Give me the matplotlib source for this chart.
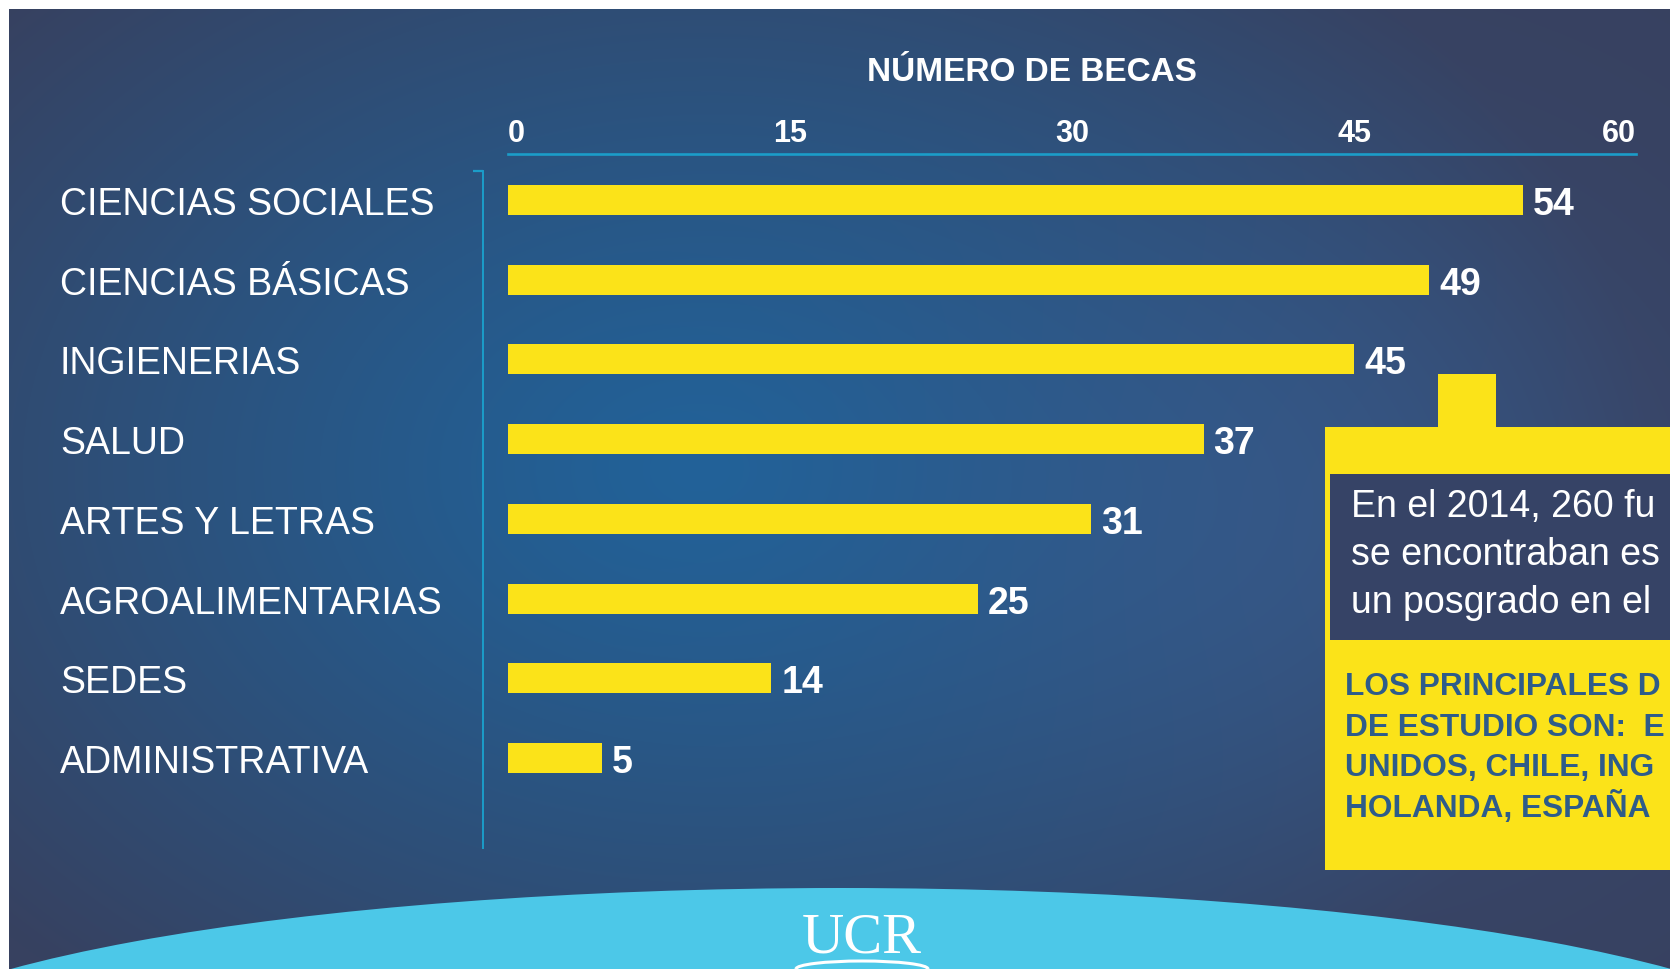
import numpy as np
import matplotlib
matplotlib.use("Agg")
import matplotlib.pyplot as plt
from matplotlib.patches import Rectangle, Ellipse, Arc

# ---------------- data ----------------
categories = ["CIENCIAS SOCIALES", "CIENCIAS BÁSICAS", "INGIENERIAS", "SALUD",
              "ARTES Y LETRAS", "AGROALIMENTARIAS", "SEDES", "ADMINISTRATIVA"]
becas = [54, 49, 45, 37, 31, 25, 14, 5]
x_ticks = [0, 15, 30, 45, 60]
axis_title = "NÚMERO DE BECAS"
# visible part of the (cropped) call-out texts
info_lines = ["En el 2014, 260 fu",
              "se encontraban es",
              "un posgrado en el"]
dest_lines = ["LOS PRINCIPALES D",
              "DE ESTUDIO SON:  E",
              "UNIDOS, CHILE, ING",
              "HOLANDA, ESPAÑA"]

plt.rcParams['font.family'] = ['Liberation Sans', 'DejaVu Sans']

YELLOW = '#FBE319'
CYAN_LINE = '#1B9DC9'

W, H = 1670, 970
fig = plt.figure(figsize=(W / 100, H / 100), dpi=100)

# ---------------- background ----------------
bg = fig.add_axes([0, 0, 1, 1])
bg.set_xlim(0, W)
bg.set_ylim(H, 0)
bg.axis('off')

yy, xx = np.mgrid[0:H, 0:W]
r = np.sqrt(((xx - 700) / 950.0) ** 2 + ((yy - 470) / 680.0) ** 2)
t = np.clip(r, 0, 1) ** 1.2
c0 = np.array([33, 98, 153]) / 255.0
c1 = np.array([55, 65, 96]) / 255.0
img = c0 * (1 - t[..., None]) + c1 * t[..., None]
# soft bluish glow on the right (where the network texture sits)
g = np.exp(-(((xx - 1300) / 380.0) ** 2 + ((yy - 520) / 330.0) ** 2))
cg = np.array([62, 96, 150]) / 255.0
w = 0.45 * g[..., None]
img = img * (1 - w) + cg * w
bg.imshow(img, extent=(0, W, H, 0), aspect='auto', zorder=0, interpolation='bilinear')

# white page margins
bg.add_patch(Rectangle((0, 0), 9, H, fc='white', ec='none', zorder=1))
bg.add_patch(Rectangle((0, 0), W, 10, fc='white', ec='none', zorder=1))

# light-blue dome at the bottom with UCR logo
bg.add_patch(Ellipse((841, 889 + 183), 2000, 366, fc='#4CC8E8', ec='none', zorder=2))
bg.text(862, 953, 'UCR', family='Liberation Serif', fontsize=42, color='white',
        ha='center', va='baseline', zorder=3)
bg.add_patch(Arc((862, 970), 132, 16, theta1=180, theta2=360, color='white', lw=2.2, zorder=3))

# bracket hook at the top of the category axis
bg.plot([473, 483], [172, 172], color=CYAN_LINE, lw=1.6, solid_capstyle='butt', zorder=3)

# yellow callout box
bg.add_patch(Rectangle((1325, 428), 400, 443, fc=YELLOW, ec='none', zorder=3))
bg.add_patch(Rectangle((1438, 375), 58, 60, fc=YELLOW, ec='none', zorder=3))
bg.add_patch(Rectangle((1330, 475), 400, 166, fc='#364366', ec='none', zorder=4))
for i, line in enumerate(info_lines):
    bg.text(1351, 516.7 + i * 48.3, line, fontsize=27, color='white',
            ha='left', va='baseline', zorder=5)
for i, line in enumerate(dest_lines):
    bg.text(1345, 695 + i * 40.7, line, fontsize=22.8, fontweight='bold', color='#2E5C8A',
            ha='left', va='baseline', zorder=5)

# ---------------- bar chart ----------------
ax = fig.add_axes([508 / W, 1 - 849 / H, 1128 / W, (849 - 155) / H])
ax.patch.set_alpha(0)
ypos = np.arange(len(categories))
bars = ax.barh(ypos, becas, height=0.376, color=YELLOW, zorder=3)
ax.set_xlim(0, 60)
ax.set_ylim(8.13, -0.577)

for s in ['right', 'bottom']:
    ax.spines[s].set_visible(False)
ax.spines['top'].set_color(CYAN_LINE)
ax.spines['top'].set_linewidth(1.9)
ax.spines['left'].set_color(CYAN_LINE)
ax.spines['left'].set_linewidth(1.4)
ax.spines['left'].set_position(('outward', 25 * 0.72))
ax.spines['left'].set_bounds(8.13, -0.364)

ax.xaxis.tick_top()
ax.set_xticks(x_ticks)
ax.tick_params(axis='x', length=0, pad=4, labelsize=22, labelcolor='white')
xl = ax.get_xticklabels()
for lbl in xl:
    lbl.set_fontweight('bold')
xl[0].set_ha('left')
xl[-1].set_ha('right')

ax.set_yticks(ypos, labels=categories)
ax.tick_params(axis='y', length=0, pad=423 * 0.72, labelsize=27, labelcolor='white')
for lbl in ax.get_yticklabels():
    lbl.set_ha('left')
    lbl.set_va('center_baseline')

ax.set_xlabel(axis_title, fontsize=24, fontweight='bold', color='white')
ax.xaxis.set_label_position('top')
ax.xaxis.set_label_coords((1031.6 - 508) / 1128, (849 - 81) / 694)
ax.xaxis.label.set_va('baseline')

vals = ax.bar_label(bars, padding=7.2, color='white', fontsize=27, fontweight='bold')
for tx in vals:
    tx.set_va('center_baseline')

fig.savefig('out.png', dpi=100)
